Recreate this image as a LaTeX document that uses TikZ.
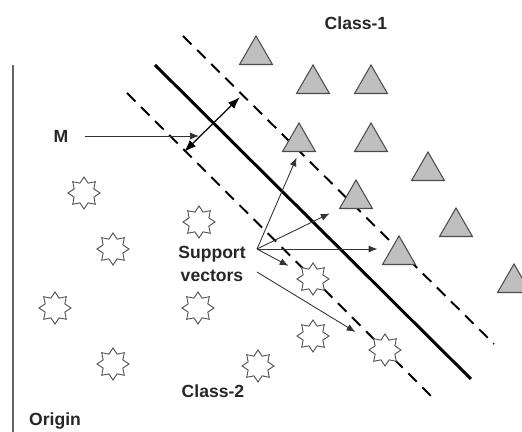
\documentclass[tikz,border=0pt]{standalone}
\usepackage{fontspec}
\setsansfont{Liberation Sans}
\usetikzlibrary{shapes.geometric,arrows.meta}
\tikzset{
  lbl/.style={font=\sffamily\bfseries\fontsize{10}{12}\selectfont, text=black!85, align=center},
  tri/.style={regular polygon, regular polygon sides=3, draw=black!70, fill=black!25,
    line width=0.6pt, minimum size=0.76cm, inner sep=0pt},
  star8/.style={star, star points=8, star point ratio=1.5, draw=black!70, fill=white,
    line width=0.5pt, minimum size=0.64cm, inner sep=0pt},
  margin/.style={dash pattern=on 6.8pt off 4.5pt, line width=1.1pt},
  pointer/.style={-{Latex[length=5pt,width=4pt]}, line width=0.5pt, black!80},
}
\begin{document}
\begin{tikzpicture}[x=0.02cm, y=-0.02cm]
    \clip (0,0) rectangle (522,432);

    % axis
    \coordinate (ax1) at (13,65);
    \coordinate (ax2) at (13,432);
    \draw[line width=0.9pt, black!60] (ax1) -- (ax2);

    % hyperplane and margins
    \coordinate (h1) at (155,65);  \coordinate (h2) at (471,379);
    \coordinate (u1) at (183,36);  \coordinate (u2) at (494,344);
    \coordinate (l1) at (127,93);  \coordinate (l2) at (436,401);
    \draw[line width=1.7pt] (h1) -- (h2);
    \draw[margin] (u1) -- (u2);
    \draw[margin] (l1) -- (l2);

    \begin{scope}[
            every node/.style={tri},
        ]
        \node (t0) at (256,55) {};
        \node (t1) at (313,84) {};
        \node (t2) at (371,84) {};
        \node (t3) at (299,142) {};
        \node (t4) at (371,142) {};
        \node (t5) at (428,171) {};
        \node (t6) at (356,199) {};
        \node (t7) at (399,255) {};
        \node (t8) at (456,227) {};
        \node (t9) at (514,283) {};
    \end{scope}

    \begin{scope}[
            every node/.style={star8},
        ]
        \node (s1) at (84,193) {};
        \node (s2) at (199,222) {};
        \node (s3) at (113,249) {};
        \node (s4) at (55,308) {};
        \node (s5) at (198,308) {};
        \node (s6) at (113,364) {};
        \node (s7) at (258,366) {};
        \node (s8) at (313,279) {};
        \node (s9) at (313,336) {};
        \node (s10) at (385,350) {};
    \end{scope}

    % labels
    \node[lbl] (c1) at (356,23) {Class-1};
    \node[lbl] (c2) at (213,391) {Class-2};
    \node[lbl] (org) at (55,421) {Origin};
    \node[lbl] (m) at (61,136) {M};
    \node[lbl, font=\sffamily\bfseries\fontsize{10}{13.6}\selectfont] (sv) at (212,264) {Support\\vectors};

    % margin width
    \coordinate (m1) at (184,152);
    \coordinate (m2) at (240,97);
    \coordinate (mhit) at (199,136);
    \draw[{Latex[length=7pt,width=5pt]}-{Latex[length=7pt,width=5pt]}, line width=0.7pt] (m1) -- (m2);
    \draw[pointer, shorten <=5.7pt] (m) -- (mhit);

    % support vector pointers
    \coordinate (sva) at (257,249);
    \coordinate (svb) at (257,272);
    \draw[pointer, shorten >=3.4pt] (sva) -- (t3.south);
    \draw[pointer, shorten >=5.7pt] (sva) -- (t6.corner 2);
    \draw[pointer, shorten >=5.7pt] (sva) -- (sva -| t7.west);
    \draw[pointer, shorten >=9pt] (sva) -- (s8);
    \draw[pointer, shorten >=12.5pt] (svb) -- (s10);
\end{tikzpicture}
\end{document}
